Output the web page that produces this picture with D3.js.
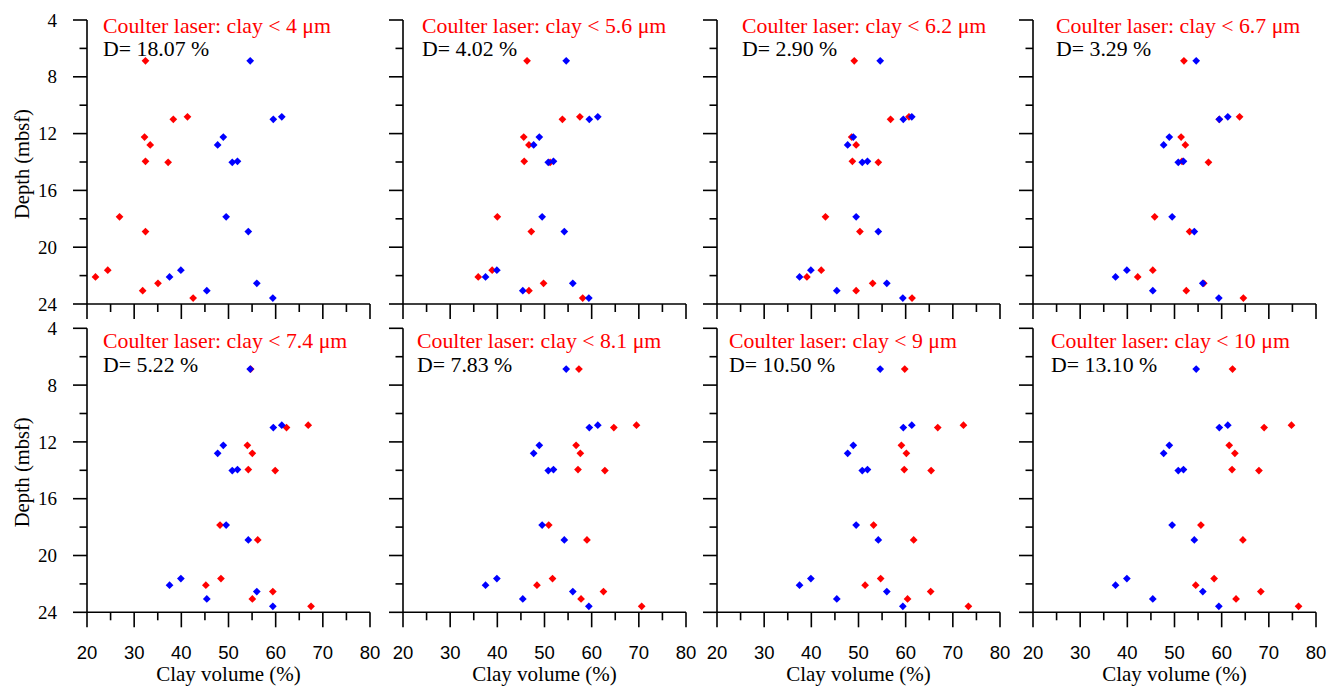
<!DOCTYPE html>
<html><head><meta charset="utf-8">
<script src="https://cdn.jsdelivr.net/npm/d3@7"></script>
<style>body{margin:0;background:#fff}</style>
</head><body>
<svg id="c" width="1343" height="688"></svg>
<script>
const depths = [6.87, 10.82, 10.99, 12.24, 12.8, 13.95, 14.02, 17.86, 18.9, 21.62, 22.09, 22.54, 23.06, 23.58];
const reference = [54.6, 61.3, 59.5, 48.9, 47.7, 51.9, 50.8, 49.5, 54.2, 39.9, 37.5, 56.0, 45.4, 59.4];
const thresholds = ["4", "5.6", "6.2", "6.7", "7.4", "8.1", "9", "10"];
const dValues = ["18.07", "4.02", "2.90", "3.29", "5.22", "7.83", "10.50", "13.10"];
const coulter4 = [32.4, 41.3, 38.3, 32.2, 33.4, 32.4, 37.2, 26.9, 32.4, 24.4, 21.8, 35.05, 31.8, 42.5];
const coulter56 = [46.3, 57.5, 53.8, 45.6, 46.7, 45.7, 51.2, 40.0, 47.2, 38.9, 35.95, 49.8, 46.7, 58.1];
const coulter62 = [49.1, 60.7, 56.8, 48.55, 49.5, 48.7, 54.2, 43.0, 50.3, 42.1, 39.06, 53.0, 49.5, 61.35];
const coulter67 = [52.0, 63.8, 59.5, 51.4, 52.3, 51.6, 57.2, 45.8, 53.2, 45.4, 42.2, 56.2, 52.5, 64.6];
const coulter74 = [54.7, 66.9, 62.3, 54.0, 55.05, 54.2, 59.9, 48.2, 56.2, 48.4, 45.2, 59.4, 55.05, 67.5];
const coulter81 = [57.3, 69.5, 64.7, 56.7, 57.6, 57.1, 62.8, 50.9, 59.0, 51.7, 48.4, 62.5, 57.75, 70.6];
const coulter9 = [59.8, 72.25, 66.8, 59.1, 60.15, 59.7, 65.4, 53.2, 61.7, 54.7, 51.4, 65.3, 60.4, 73.3];
const coulter10 = [62.3, 74.8, 69.0, 61.6, 62.8, 62.2, 67.9, 55.6, 64.5, 58.4, 54.5, 68.3, 63.05, 76.3];
const coulterSeries = [coulter4, coulter56, coulter62, coulter67, coulter74, coulter81, coulter9, coulter10];
const xTicks = [20, 30, 40, 50, 60, 70, 80];
const yTicks = [4, 8, 12, 16, 20, 24];

const svg = d3.select("#c");
const serif = "'Liberation Serif','Times New Roman',serif";
const sans = "'Liberation Sans',Arial,sans-serif";
const lefts = [87, 403, 717, 1033];
const tops = [20, 328.3];
const W = 283, H = 284;
const titleDx = [16, 19, 25, 23, 16, 14, 12, 18];
const titleDy = [12.5, 19.5];
const dDy = [36, 43.5];

const diamond = d3.symbol(d3.symbolSquare, 30);

coulterSeries.forEach((vals, i) => {
  const row = Math.floor(i / 4), col = i % 4;
  const x = d3.scaleLinear().domain([20, 80]).range([0, W]);
  const y = d3.scaleLinear().domain([4, 24]).range([0, H]);
  const g = svg.append("g").attr("transform", `translate(${lefts[col]},${tops[row]})`);

  // y axis
  const ya = g.append("g");
  ya.append("line").attr("x1", 0).attr("x2", 0).attr("y1", 0).attr("y2", H).attr("stroke", "#000").attr("stroke-width", 1.6);
  d3.range(4, 24.01, 2).forEach(v => {
    const major = v % 4 === 0;
    ya.append("line").attr("x1", major ? -14 : -7.5).attr("x2", 0).attr("y1", y(v)).attr("y2", y(v))
      .attr("stroke", "#000").attr("stroke-width", 1.6);
  });
  if (col === 0) {
    yTicks.forEach(v => {
      ya.append("text").attr("x", -30).attr("y", y(v)).attr("dy", "0.35em").attr("text-anchor", "end")
        .attr("font-family", serif).attr("font-size", 19).text(v);
    });
    svg.append("text").attr("transform", `translate(22,${tops[row] + H / 2 + 2}) rotate(-90)`)
      .attr("text-anchor", "middle").attr("dy", "0.35em").attr("font-family", serif).attr("font-size", 20.5)
      .text("Depth (mbsf)");
  }
  // x axis
  const xa = g.append("g").attr("transform", `translate(0,${H})`);
  xa.append("line").attr("x1", 0).attr("x2", W).attr("stroke", "#000").attr("stroke-width", 1.6);
  d3.range(20, 80.01, 5).forEach(v => {
    const major = v % 10 === 0;
    xa.append("line").attr("x1", x(v)).attr("x2", x(v)).attr("y1", 0).attr("y2", major ? 15 : 8)
      .attr("stroke", "#000").attr("stroke-width", 1.6);
  });
  if (row === 1) {
    xTicks.forEach(v => {
      xa.append("text").attr("x", x(v)).attr("y", 40).attr("text-anchor", "middle")
        .attr("dy", "0.35em").attr("font-family", sans).attr("font-size", 18.5).text(v);
    });
    xa.append("text").attr("x", W / 2).attr("y", 68.5).attr("text-anchor", "middle")
      .attr("font-family", serif).attr("font-size", 21).text("Clay volume (%)");
  }

  // points: red first, blue on top
  g.selectAll("path.r").data(vals).join("path").attr("class", "r")
    .attr("d", diamond).attr("fill", "#ff0000")
    .attr("transform", (d, k) => `translate(${x(d)},${y(depths[k])}) rotate(45)`);
  g.selectAll("path.b").data(reference).join("path").attr("class", "b")
    .attr("d", diamond).attr("fill", "#0000ff")
    .attr("transform", (d, k) => `translate(${x(d)},${y(depths[k])}) rotate(45)`);

  g.append("text").attr("x", titleDx[i]).attr("y", titleDy[row]).attr("font-family", serif)
    .attr("font-size", 21.8).attr("fill", "#ff0000").text(`Coulter laser: clay < ${thresholds[i]} μm`);
  g.append("text").attr("x", titleDx[i]).attr("y", dDy[row]).attr("font-family", serif)
    .attr("font-size", 21.8).attr("fill", "#000").text(`D= ${dValues[i]} %`);
});
</script>
</body></html>
